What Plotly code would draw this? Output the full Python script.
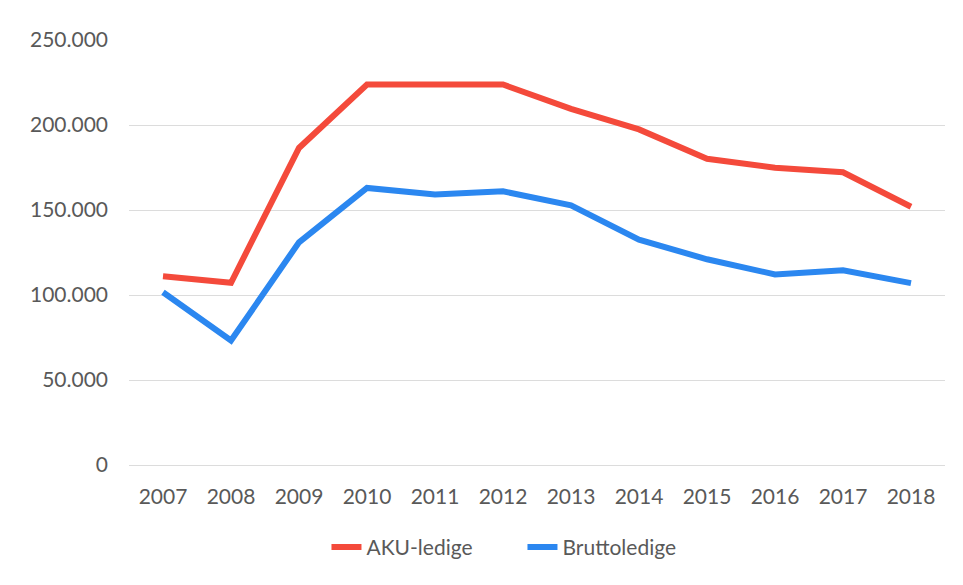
import plotly.graph_objects as go

years = ["2007", "2008", "2009", "2010", "2011", "2012", "2013", "2014", "2015", "2016", "2017", "2018"]
aku_ledige = [111000, 107200, 186500, 223800, 223800, 223800, 209500, 197400, 180100, 174900, 172200, 151900]
bruttoledige = [101600, 73200, 131000, 163000, 159100, 161000, 152700, 132600, 121000, 112100, 114600, 107000]
y_tickvals = [0, 50000, 100000, 150000, 200000, 250000]
y_ticktext = ["0", "50.000", "100.000", "150.000", "200.000", "250.000"]

font_family = "Lato, 'Open Sans', sans-serif"
text_color = "#595959"

fig = go.Figure()
fig.add_trace(go.Scatter(x=years, y=aku_ledige, mode="lines", name="AKU-ledige",
                         line=dict(color="#F44A3B", width=6)))
fig.add_trace(go.Scatter(x=years, y=bruttoledige, mode="lines", name="Bruttoledige",
                         line=dict(color="#2B87F0", width=6)))

fig.update_layout(
    width=963, height=585,
    margin=dict(l=121, r=26, t=32, b=128, autoexpand=False),
    paper_bgcolor="white", plot_bgcolor="white",
    font=dict(family=font_family, size=21, color=text_color),
    showlegend=True,
    legend=dict(orientation="h", x=0.242, xanchor="left", y=-0.194, yanchor="middle",
                font=dict(size=21, color=text_color), entrywidth=151, entrywidthmode="pixels",
                traceorder="normal"),
    xaxis=dict(type="category", range=[-0.5, 11.5], showgrid=False, zeroline=False, showline=False,
               automargin=False, ticks="", ticklabelstandoff=17,
               tickfont=dict(size=21, color=text_color)),
    yaxis=dict(range=[0, 250000], tickvals=y_tickvals, ticktext=y_ticktext,
               showgrid=True, gridcolor="#DCDCDC", gridwidth=1, zeroline=True,
               zerolinecolor="#DCDCDC", zerolinewidth=1,
               automargin=False, showline=False, ticks="", ticklabelstandoff=20,
               tickfont=dict(size=21, color=text_color)),
)

fig.write_html("out.html")
